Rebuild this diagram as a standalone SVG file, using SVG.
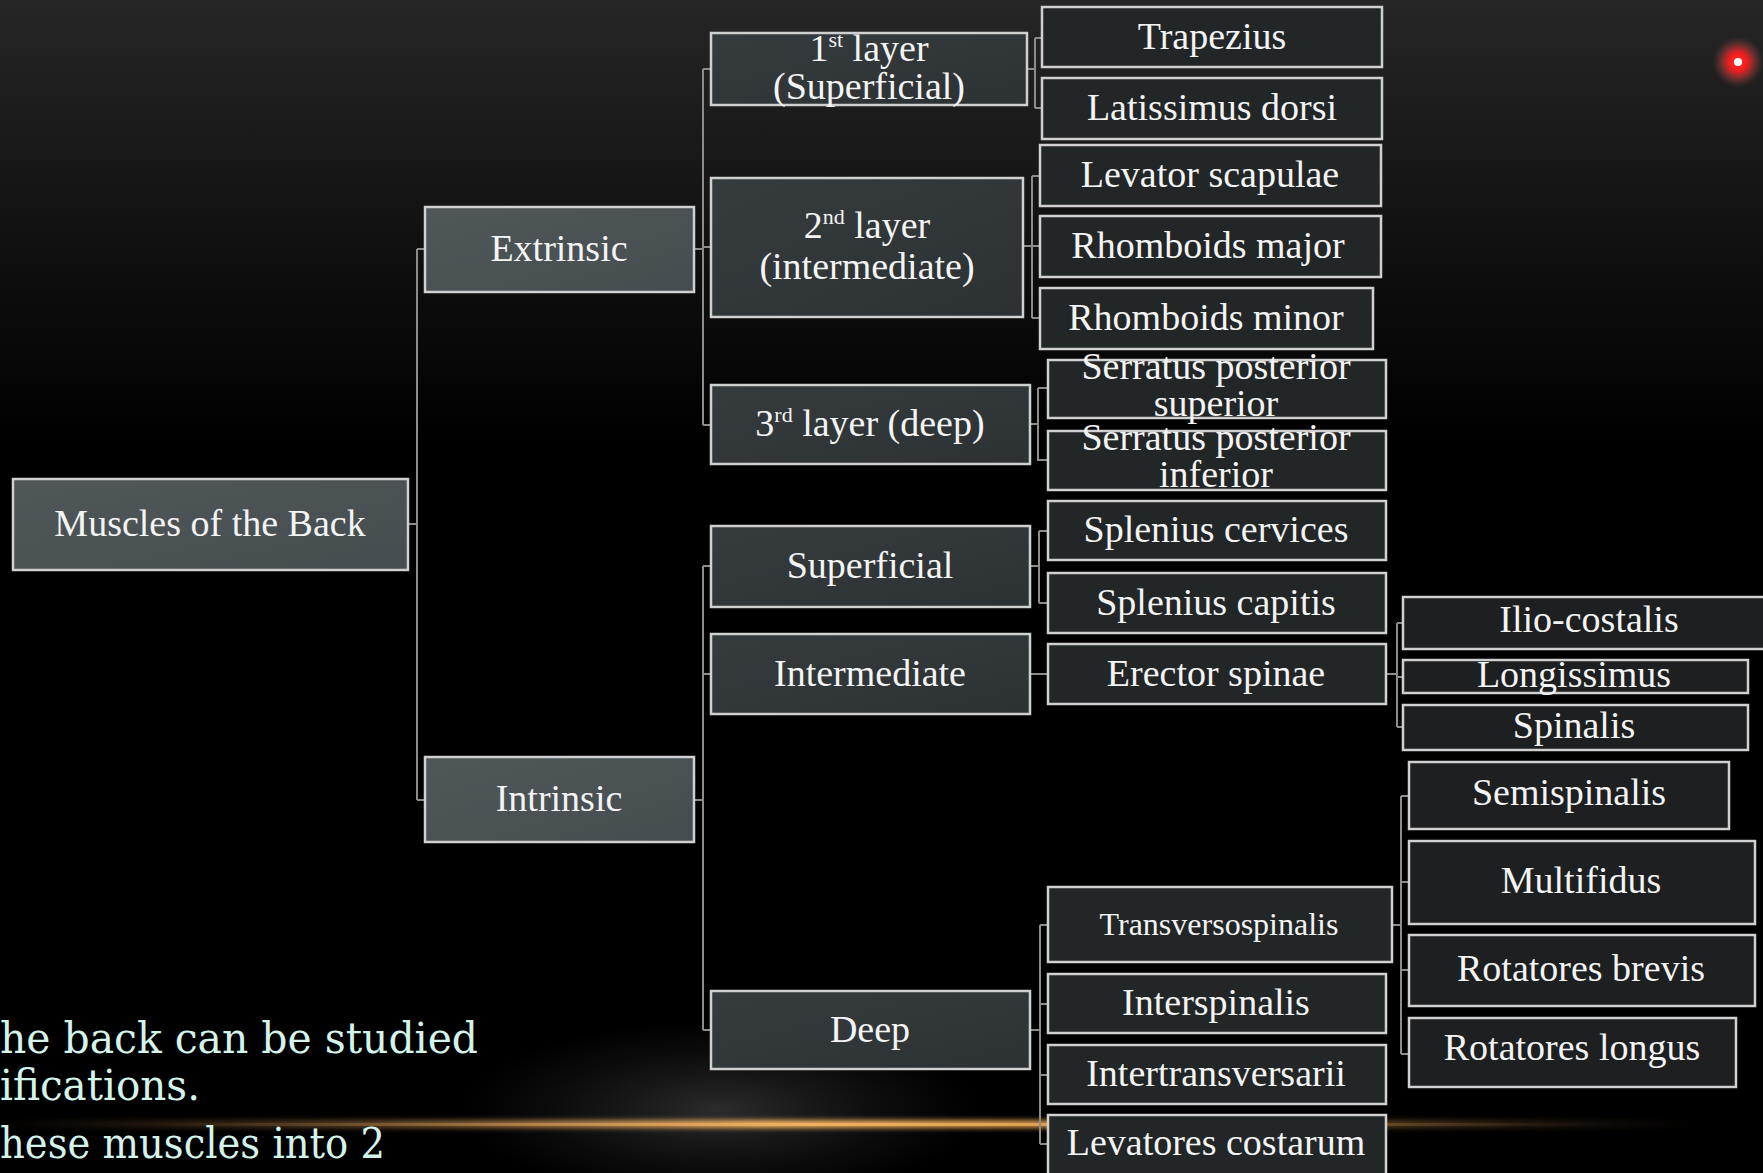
<svg xmlns="http://www.w3.org/2000/svg" width="1763" height="1173" viewBox="0 0 1763 1173">
<defs>
<linearGradient id="bg" x1="0" y1="0" x2="0" y2="1">
<stop offset="0" stop-color="#262626"/>
<stop offset="0.2" stop-color="#111111"/>
<stop offset="0.38" stop-color="#000000"/>
<stop offset="1" stop-color="#000000"/>
</linearGradient>
<linearGradient id="g1" x1="0" y1="0" x2="1" y2="1">
<stop offset="0" stop-color="#4f5759"/>
<stop offset="1" stop-color="#454d50"/>
</linearGradient>
<linearGradient id="g2" x1="0" y1="0" x2="1" y2="1">
<stop offset="0" stop-color="#363c3e"/>
<stop offset="1" stop-color="#2c3233"/>
</linearGradient>
<linearGradient id="gold" x1="0" y1="0" x2="1" y2="0">
<stop offset="0" stop-color="#c08040" stop-opacity="0"/>
<stop offset="0.15" stop-color="#c08a50" stop-opacity="0.3"/>
<stop offset="0.45" stop-color="#f0b060" stop-opacity="1"/>
<stop offset="0.65" stop-color="#e0a050" stop-opacity="0.85"/>
<stop offset="0.9" stop-color="#a07040" stop-opacity="0.2"/>
<stop offset="1" stop-color="#806040" stop-opacity="0"/>
</linearGradient>
<radialGradient id="haze" cx="0.5" cy="0.5" r="0.5">
<stop offset="0" stop-color="#505050" stop-opacity="0.55"/>
<stop offset="1" stop-color="#303030" stop-opacity="0"/>
</radialGradient>
<radialGradient id="dot" cx="0.5" cy="0.5" r="0.5">
<stop offset="0" stop-color="#ff3030"/>
<stop offset="0.35" stop-color="#f01c1c"/>
<stop offset="0.55" stop-color="#c83030" stop-opacity="0.7"/>
<stop offset="0.8" stop-color="#904040" stop-opacity="0.3"/>
<stop offset="1" stop-color="#603030" stop-opacity="0"/>
</radialGradient>
<filter id="blur" x="-10%" y="-300%" width="120%" height="700%">
<feGaussianBlur stdDeviation="2.5"/>
</filter>
</defs>
<style>
.b1{fill:url(#g1);stroke:#d0d0d0;stroke-width:2.5}
.b2{fill:url(#g2);stroke:#d0d0d0;stroke-width:2.5}
.b3{fill:#232627;stroke:#d0d0d0;stroke-width:2.5}
.b4{fill:#1d1f20;stroke:#d0d0d0;stroke-width:2.5}
text{font-family:"Liberation Serif","Times New Roman",serif;font-size:38px;fill:#f4f4f4;text-anchor:middle}
.sup{font-size:22px}
.small{font-size:32px}
.con{fill:none;stroke:#8c8c8c;stroke-width:2}
.slide{font-family:"DejaVu Serif",serif;font-size:42px;fill:#d4f3ea;text-anchor:start}
</style>
<rect width="1763" height="1173" fill="url(#bg)"/>
<ellipse cx="720" cy="1110" rx="260" ry="90" fill="url(#haze)"/>
<rect x="0" y="1120" width="1700" height="8" fill="url(#gold)" filter="url(#blur)"/>
<rect x="150" y="1123" width="1450" height="3" fill="url(#gold)"/>

<g id="connectors">
<path class="con" d="M408 524 H417 M417 249 V800 M417 249 H425 M417 800 H425"/>
<path class="con" d="M694 249 H703 M703 69 V425 M703 69 H711 M703 247 H711 M703 425 H711"/>
<path class="con" d="M694 800 H703 M703 566 V1030 M703 566 H711 M703 674 H711 M703 1030 H711"/>
<path class="con" d="M1027 69 H1035 M1035 38 V108 M1035 38 H1042 M1035 108 H1042"/>
<path class="con" d="M1023 246 H1032 M1032 176 V318 M1032 176 H1040 M1032 246 H1040 M1032 318 H1040"/>
<path class="con" d="M1030 424 H1038 M1038 388 V460 H1048 M1038 388 H1048"/>
<path class="con" d="M1030 566 H1039 M1039 531 V603 M1039 531 H1048 M1039 603 H1048"/>
<path class="con" d="M1030 674 H1048"/>
<path class="con" d="M1386 674 H1397 M1397 623 V727 M1397 623 H1403 M1397 677 H1403 M1397 727 H1403"/>
<path class="con" d="M1030 1030 H1040 M1040 925 V1144 M1040 925 H1048 M1040 1004 H1048 M1040 1075 H1048 M1040 1144 H1048"/>
<path class="con" d="M1392 925 H1401 M1401 796 V1054 M1401 796 H1409 M1401 882 H1409 M1401 970 H1409 M1401 1054 H1409"/>
</g>

<g id="n-root"><rect class="b1" x="13" y="479" width="395" height="91"/><text x="210" y="536">Muscles of the Back</text></g>
<g id="n-extrinsic"><rect class="b1" x="425" y="207" width="269" height="85"/><text x="559" y="261">Extrinsic</text></g>
<g id="n-intrinsic"><rect class="b1" x="425" y="757" width="269" height="85"/><text x="559" y="811">Intrinsic</text></g>

<g id="n-layer1"><rect class="b2" x="711" y="33" width="316" height="72"/><text x="869" y="61">1<tspan class="sup" dy="-14">st</tspan><tspan dy="14"> layer</tspan></text><text x="869" y="99">(Superficial)</text></g>
<g id="n-layer2"><rect class="b2" x="711" y="178" width="312" height="139"/><text x="867" y="238">2<tspan class="sup" dy="-14">nd</tspan><tspan dy="14"> layer</tspan></text><text x="867" y="279">(intermediate)</text></g>
<g id="n-layer3"><rect class="b2" x="711" y="385" width="319" height="79"/><text x="870" y="436">3<tspan class="sup" dy="-14">rd</tspan><tspan dy="14"> layer (deep)</tspan></text></g>
<g id="n-superficial"><rect class="b2" x="711" y="526" width="319" height="81"/><text x="870" y="578">Superficial</text></g>
<g id="n-intermediate"><rect class="b2" x="711" y="634" width="319" height="80"/><text x="870" y="686">Intermediate</text></g>
<g id="n-deep"><rect class="b2" x="711" y="991" width="319" height="78"/><text x="870" y="1042">Deep</text></g>

<g id="n-trapezius"><rect class="b3" x="1042" y="7" width="340" height="60"/><text x="1212" y="49">Trapezius</text></g>
<g id="n-latissimus"><rect class="b3" x="1042" y="78" width="340" height="61"/><text x="1212" y="120">Latissimus dorsi</text></g>
<g id="n-levator"><rect class="b3" x="1040" y="145" width="341" height="61"/><text x="1210" y="187">Levator scapulae</text></g>
<g id="n-rhmajor"><rect class="b3" x="1040" y="216" width="341" height="61"/><text x="1208" y="258">Rhomboids major</text></g>
<g id="n-rhminor"><rect class="b3" x="1040" y="288" width="333" height="61"/><text x="1206" y="330">Rhomboids minor</text></g>
<g id="n-spsup"><rect class="b3" x="1048" y="360" width="338" height="58"/><text x="1216" y="379">Serratus posterior</text><text x="1216" y="416">superior</text></g>
<g id="n-spinf"><rect class="b3" x="1048" y="431" width="338" height="59"/><text x="1216" y="450">Serratus posterior</text><text x="1216" y="487">inferior</text></g>
<g id="n-splcerv"><rect class="b3" x="1048" y="501" width="338" height="59"/><text x="1216" y="542">Splenius cervices</text></g>
<g id="n-splcap"><rect class="b3" x="1048" y="573" width="338" height="60"/><text x="1216" y="615">Splenius capitis</text></g>
<g id="n-erector"><rect class="b3" x="1048" y="644" width="338" height="60"/><text x="1216" y="686">Erector spinae</text></g>
<g id="n-transverso"><rect class="b3" x="1048" y="887" width="344" height="75"/><text class="small" x="1219" y="935">Transversospinalis</text></g>
<g id="n-interspinalis"><rect class="b3" x="1048" y="974" width="338" height="59"/><text x="1216" y="1015">Interspinalis</text></g>
<g id="n-intertrans"><rect class="b3" x="1048" y="1045" width="338" height="59"/><text x="1216" y="1086">Intertransversarii</text></g>
<g id="n-levcost"><rect class="b3" x="1048" y="1115" width="338" height="72"/><text x="1216" y="1155">Levatores costarum</text></g>

<g id="n-ilio"><rect class="b4" x="1403" y="597" width="372" height="52"/><text x="1589" y="632">Ilio-costalis</text></g>
<g id="n-longissimus"><rect class="b4" x="1403" y="660" width="345" height="33"/><text x="1574" y="687">Longissimus</text></g>
<g id="n-spinalis"><rect class="b4" x="1403" y="705" width="345" height="45"/><text x="1574" y="738">Spinalis</text></g>
<g id="n-semispinalis"><rect class="b4" x="1409" y="762" width="320" height="67"/><text x="1569" y="805">Semispinalis</text></g>
<g id="n-multifidus"><rect class="b4" x="1409" y="841" width="346" height="83"/><text x="1581" y="893">Multifidus</text></g>
<g id="n-rotbrevis"><rect class="b4" x="1409" y="935" width="346" height="71"/><text x="1581" y="981">Rotatores brevis</text></g>
<g id="n-rotlongus"><rect class="b4" x="1409" y="1018" width="327" height="69"/><text x="1572" y="1060">Rotatores longus</text></g>

<text class="slide" x="0" y="1053" textLength="478" lengthAdjust="spacingAndGlyphs">he back can be studied</text>
<text class="slide" x="0" y="1100" textLength="200" lengthAdjust="spacingAndGlyphs">ifications.</text>
<text class="slide" x="0" y="1158" textLength="385" lengthAdjust="spacingAndGlyphs">hese muscles into 2</text>

<circle cx="1738" cy="62" r="26" fill="url(#dot)"/>
<circle cx="1738" cy="62" r="4" fill="#ffffff"/>
</svg>
